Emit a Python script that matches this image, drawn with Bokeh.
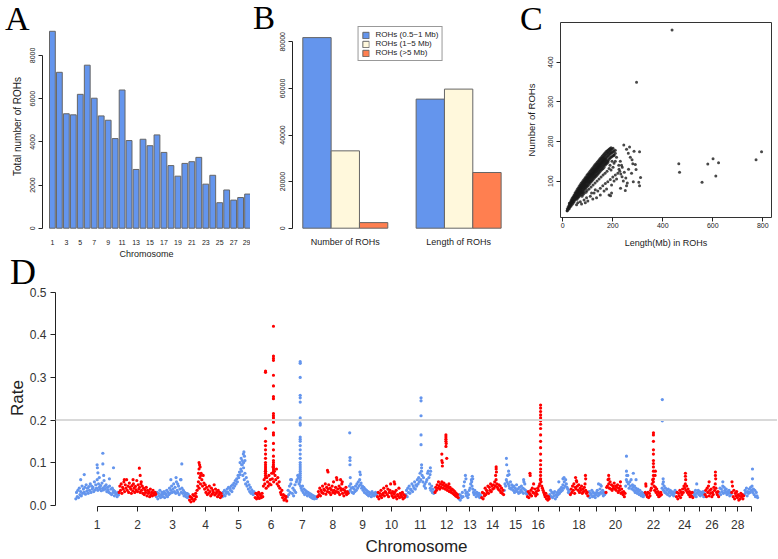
import numpy as np
from bokeh.plotting import figure
from bokeh.models import (Legend, LegendItem, FixedTicker, Range1d, Span,
                          NumeralTickFormatter, Div)
from bokeh.layouts import column, row
from bokeh.embed import file_html
from bokeh.resources import INLINE

# ---------------- data: panel A ----------------
chromosomes = list(range(1, 30))
roh_per_chrom = [9120, 7220, 5300, 5250, 6200, 7550, 6020, 5200, 5000, 4150,
                 6400, 4060, 2720, 4120, 3820, 4320, 3510, 2900, 2410, 3000,
                 3080, 3280, 2040, 2450, 1180, 1770, 1300, 1420, 1580]

# ---------------- data: panel B ----------------
b_groups = ["Number of ROHs", "Length of ROHs"]
b_classes = ["ROHs (0.5~1 Mb)", "ROHs (1~5 Mb)", "ROHs (>5 Mb)"]
roh_short = [81800, 55400]
roh_mid = [33200, 59700]
roh_long = [2400, 23900]

# ---------------- data: panel C ----------------
# dense cloud: length (Mb) column -> numbers of ROHs observed at that length
c_cloud_len = [18, 22, 26, 29, 33, 37, 41, 45, 49, 53, 57, 61, 65, 69, 73, 77, 81, 85, 89, 93,
               97, 101, 105, 109, 113, 117, 121, 125, 129, 133, 137, 141, 145, 149, 153, 157,
               161, 165, 169, 173, 177, 181, 185, 189, 193, 197, 201, 205, 210]
c_cloud_num = [[25, 30], [32, 28, 36], [34, 40, 31, 44], [38, 45, 35, 41],
               [42, 48, 37, 51, 44], [46, 41, 53, 49, 56], [50, 44, 57, 53, 60, 47],
               [55, 48, 61, 52, 64, 58], [58, 52, 66, 61, 70, 55], [63, 56, 70, 60, 74, 67],
               [66, 59, 73, 64, 78, 70, 54], [70, 62, 77, 67, 82, 74, 58],
               [74, 66, 81, 71, 86, 78, 61], [77, 69, 85, 74, 90, 82, 64],
               [81, 72, 88, 78, 94, 85, 67], [84, 75, 92, 81, 97, 88, 70, 62],
               [88, 79, 95, 84, 101, 92, 73, 66], [91, 82, 99, 88, 104, 95, 76, 69],
               [95, 85, 102, 91, 108, 98, 80], [98, 88, 106, 94, 111, 102, 83, 72],
               [101, 91, 109, 97, 115, 105, 86, 76], [105, 95, 112, 100, 118, 108, 89],
               [108, 98, 116, 103, 121, 111, 92, 80], [111, 101, 119, 107, 125, 114, 95],
               [114, 104, 122, 110, 128, 117, 98, 85], [117, 107, 126, 113, 131, 120, 101],
               [120, 110, 129, 116, 134, 123, 104, 90], [123, 113, 132, 119, 138, 126, 107],
               [126, 116, 135, 122, 141, 129, 110, 95], [129, 119, 138, 125, 144, 132, 112],
               [132, 122, 141, 128, 147, 135, 115, 100], [135, 125, 144, 131, 150, 138, 118],
               [138, 128, 147, 134, 153, 141, 121, 105], [141, 131, 150, 137, 156, 144, 124],
               [144, 134, 153, 140, 159, 147, 127, 110], [147, 137, 156, 143, 162, 150, 130],
               [150, 139, 159, 146, 165, 153, 132, 115], [152, 142, 161, 149, 168, 156, 135],
               [155, 145, 164, 151, 171, 140, 120], [158, 147, 166, 154, 174, 143],
               [160, 150, 169, 176, 145, 125], [163, 152, 171, 178, 148],
               [165, 155, 173, 180, 132], [168, 158, 176, 182, 140], [170, 160, 178, 184, 128],
               [172, 162, 181, 150], [174, 164, 183, 135], [166, 176, 145], [170, 178, 150]]
# sparse points under the cloud and far outliers
c_len = [55, 70, 85, 95, 110, 125, 140, 150, 160, 170, 180, 190, 200, 210, 220, 115, 130, 165,
         175, 195, 205, 215, 225, 235, 230, 215, 205, 195, 185, 150, 135, 120, 100, 90, 75, 60,
         224, 228, 232, 238, 242, 246, 252, 258, 263, 270, 275, 282, 285, 262,
         437, 295, 464, 467, 557, 580, 601, 612, 623, 773, 795, 307, 244, 267, 255, 290, 293,
         304, 307, 311, 277, 280, 255, 250, 237, 231, 191, 17]
c_num = [40, 48, 52, 58, 62, 70, 75, 82, 88, 94, 98, 104, 110, 115, 120, 70, 78, 75,
         80, 90, 100, 105, 130, 140, 150, 160, 165, 70, 65, 65, 58, 55, 50, 45, 42, 45,
         140, 125, 118, 135, 100, 122, 108, 95, 130, 160, 120, 98, 175, 170,
         481, 349, 144, 122, 97, 143, 156, 113, 146, 154, 174, 174, 191, 186, 180, 142, 129,
         97, 88, 109, 154, 144, 88, 76, 111, 82, 63, 25]

# ---------------- data: panel D (rate x 1000) ----------------
chrom_len_mb = [158.5, 136.2, 121.0, 120.0, 120.1, 117.8, 110.7, 113.3, 105.5, 103.3,
                107.0, 87.2, 83.5, 82.4, 85.0, 81.7, 75.2, 66.0, 64.1, 72.0,
                71.6, 61.4, 52.5, 62.3, 42.4, 52.0, 45.6, 45.9, 51.1]
rate_chr1 = [15, 30, 20, 35, 18, 40, 25, 32, 22, 45, 28, 38, 30, 42, 26, 48, 33, 40, 28, 44, 35, 50,
             30, 45, 38, 42, 32, 55, 36, 48, 40, 60, 35, 50, 42, 38, 46, 34, 52, 40, 36, 58, 44, 38,
             48, 32, 42, 36, 30, 45, 28, 38, 25, 40, 30, 35, 22, 32, 28, 26, 20, 30, 24]
rate_chr2 = [30, 45, 35, 50, 28, 42, 38, 55, 32, 48, 40, 60, 35, 45, 30, 52, 42, 38, 28, 46, 34, 50,
             40, 30, 44, 36, 58, 32, 48, 38, 42, 30, 50, 35, 45, 28, 40, 25, 36, 30, 42, 22, 35, 28,
             32, 20, 38, 25, 30, 22, 35, 28, 24, 30, 26]
rate_chr3 = [20, 30, 15, 28, 22, 35, 18, 25, 30, 20, 26, 32, 18, 28, 24, 35, 20, 30, 25, 40, 28, 35,
             45, 30, 38, 50, 32, 42, 28, 55, 35, 30, 45, 25, 38, 60, 30, 40, 28, 35, 22, 30, 25, 20,
             28, 18, 26, 22]
rate_chr4 = [12, 20, 8, 18, 15, 25, 10, 22, 14, 28, 20, 35, 45, 55, 40, 65, 50, 75, 60, 45, 70, 52,
             38, 48, 30, 42, 25, 36, 28, 45, 32, 22, 40, 26, 35, 30, 48, 24, 38, 28, 32, 20, 35, 25,
             30, 18, 28, 22]
rate_chr5 = [20, 30, 25, 35, 22, 32, 28, 38, 30, 42, 26, 40, 35, 45, 32, 48, 40, 52, 45, 58, 50, 62,
             55, 70, 65, 78, 72, 85, 80, 95, 70, 88, 60, 75, 50, 65, 45, 55, 38, 48, 32, 42, 28, 36,
             30, 25, 32, 28]
rate_chr6 = [18, 28, 15, 25, 20, 30, 16, 26, 22, 18, 28, 20, 45, 60, 50, 80, 40, 65, 55, 45, 70, 50,
             60, 48, 75, 62, 90, 55, 80, 70, 60, 85, 50, 65, 45, 55, 40, 30, 25, 35, 18, 25, 12, 22,
             15, 20, 10]
rate_chr7 = [20, 35, 25, 45, 30, 50, 60, 28, 40, 22, 35, 48, 30, 55, 60, 70, 65, 50, 55, 45, 40, 35,
             45, 30, 38, 25, 35, 28, 32, 22, 30, 25, 28, 20, 26, 18, 24, 16, 22, 15, 20, 18, 16, 20]
rate_chr8 = [20, 32, 25, 40, 22, 35, 30, 45, 28, 38, 35, 50, 26, 42, 32, 38, 48, 30, 40, 25, 36, 45,
             30, 55, 35, 28, 42, 32, 60, 38, 30, 45, 25, 40, 35, 50, 28, 38, 22, 35, 30, 42, 25, 32, 28]
rate_chr9 = [30, 45, 35, 50, 40, 30, 42, 28, 38, 32, 45, 35, 50, 40, 55, 45, 60, 48, 52, 40, 45, 35,
             42, 30, 38, 28, 35, 25, 32, 22, 30, 26, 28, 20, 32, 24, 28, 22, 26, 30, 24, 28]
rate_chr10 = [20, 30, 15, 28, 22, 35, 18, 25, 28, 40, 22, 32, 30, 45, 25, 38, 20, 30, 35, 50, 28, 22,
              32, 18, 26, 30, 20, 35, 15, 25, 22, 40, 18, 28, 24, 20, 30, 15, 25, 18, 22]
rate_chr11 = [25, 35, 20, 40, 30, 45, 28, 38, 35, 50, 32, 45, 40, 55, 38, 48, 45, 60, 50, 65, 55, 75,
              60, 80, 70, 55, 65, 45, 50, 40, 55, 60, 75, 80, 65, 50, 40, 35, 45, 30, 38, 28, 32]
rate_chr12 = [30, 42, 35, 48, 40, 55, 45, 38, 50, 42, 55, 48, 40, 52, 45, 38, 48, 42, 35, 45, 40, 32,
              42, 36, 30, 38, 28, 35, 25, 32, 22, 28, 20, 25, 18]
rate_chr13 = [15, 25, 12, 22, 18, 30, 20, 45, 55, 35, 28, 22, 30, 18, 25, 35, 40, 50, 60, 45, 38, 30,
              25, 35, 28, 20, 30, 25, 22, 28, 18, 24, 20]
rate_chr14 = [18, 30, 15, 28, 22, 40, 25, 35, 30, 45, 28, 42, 35, 50, 32, 45, 38, 48, 40, 55, 45, 60,
              50, 42, 38, 48, 35, 45, 30, 40, 28, 35, 25]
rate_chr15 = [35, 50, 45, 60, 55, 70, 50, 45, 40, 55, 38, 48, 42, 35, 45, 30, 40, 35, 48, 32, 38, 28,
              42, 30, 36, 45, 32, 40, 28, 38, 50, 35, 30, 26]
rate_chr16 = [20, 32, 18, 28, 25, 35, 22, 40, 30, 50, 28, 38, 22, 32, 26, 40, 35, 45, 50, 60, 55, 45,
              40, 35, 30, 25, 20, 28, 15, 22, 12, 20, 15]
rate_chr17 = [25, 35, 20, 30, 18, 28, 22, 32, 15, 25, 20, 30, 25, 35, 28, 38, 32, 42, 35, 48, 40, 55,
              45, 60, 50, 42, 38, 30, 35, 28]
rate_chr18 = [25, 38, 30, 45, 35, 50, 28, 42, 38, 55, 45, 35, 48, 30, 40, 35, 45, 28, 38, 32, 42, 50,
              35, 28, 30, 22]
rate_chr19 = [22, 32, 18, 28, 25, 35, 20, 30, 22, 28, 18, 25, 30, 35, 22, 28, 25, 38, 30, 45, 28, 35,
              22, 30, 25, 28]
rate_chr20 = [30, 42, 45, 60, 50, 40, 55, 38, 48, 35, 45, 40, 52, 38, 45, 35, 42, 48, 30, 40, 35, 45,
              28, 38, 30, 25, 32, 20, 28]
rate_chr21 = [45, 60, 55, 70, 50, 40, 55, 45, 60, 38, 48, 42, 35, 45, 30, 40, 35, 28, 38, 32, 25, 35,
              28, 22, 30, 25, 20, 28, 24]
rate_chr22 = [30, 45, 25, 20, 30, 18, 28, 22, 35, 40, 50, 60, 55, 45, 35, 42, 30, 38, 25, 32, 20, 28,
              22, 30, 25]
rate_chr23 = [40, 50, 35, 45, 30, 40, 28, 35, 25, 38, 30, 22, 35, 28, 32, 25, 30, 22, 28, 35, 30]
rate_chr24 = [20, 30, 15, 28, 22, 35, 18, 30, 25, 38, 30, 45, 40, 50, 35, 45, 30, 38, 25, 32, 20, 28,
              22, 30, 18]
rate_chr25 = [22, 30, 25, 35, 20, 28, 30, 35, 25, 32, 22, 28, 30, 25, 32, 20, 28]
rate_chr26 = [25, 35, 20, 40, 30, 45, 22, 35, 28, 38, 20, 30, 25, 42, 35, 50, 40, 30, 25, 32, 20]
rate_chr27 = [30, 40, 25, 38, 32, 45, 28, 42, 35, 30, 38, 25, 32, 28, 35, 22, 30, 26]
rate_chr28 = [30, 45, 20, 35, 15, 28, 22, 32, 18, 25, 12, 22, 15, 28, 20, 25, 15, 22]
rate_chr29 = [25, 35, 30, 40, 22, 32, 28, 38, 30, 42, 35, 45, 30, 38, 25, 35, 20, 30, 22, 18]

# isolated high points: chromosome, position (Mb), rate x 1000
peak_chrom = ([1] * 11 + [2] * 5 + [3] * 5 + [4] * 6 + [5] * 9 + [6] * 41 + [7] * 27 + [8] * 5 +
              [9] * 7 + [10] * 2 + [11] * 10 + [12] * 12 + [13] * 5 + [14] * 4 + [15] * 6 +
              [16] * 20 + [17] * 3 + [18] * 4 + [19] * 2 + [20] * 3 + [21] * 5 + [22] * 14 +
              [23] * 4 + [24] * 3 + [25] * 1 + [26] * 4 + [27] * 1 + [28] * 1 + [29] * 2)
peak_pos = ([79, 80, 82, 87, 100, 100, 103, 139, 19, 32, 124] +
            [20, 52, 75, 78, 82] +
            [54, 73, 91, 94, 79] +
            [36, 38, 36, 40, 34, 42] +
            [66, 70, 78, 80, 82, 84, 79, 72, 74] +
            [39] * 16 + [68] * 25 +
            [48] * 26 + [13] +
            [37, 39, 70, 85, 91] +
            [5, 6, 6, 6, 7, 42, 44] +
            [62, 64] +
            [57, 57, 57, 57, 57, 59, 59, 91, 92, 90] +
            [26, 26, 28, 28, 41, 41, 41, 41, 42, 41, 44, 52] +
            [25, 27, 50, 52, 48] +
            [54, 54, 55, 52] +
            [9, 10, 17, 19, 72, 73] +
            [10, 11] + [49] * 18 +
            [49, 53, 34] +
            [20, 23, 56, 57] +
            [38, 45] +
            [11, 12, 54] +
            [4, 4, 5, 29, 39] +
            [31] * 11 + [38, 37, 3] +
            [2, 2, 5, 6] +
            [34, 34, 35] +
            [13] +
            [39, 39, 40, 16] +
            [14] + [2] + [31, 31])
peak_rate = ([95, 88, 76, 65, 122, 97, 70, 88, 60, 72, 62] +
             [60, 60, 87, 70, 55] +
             [60, 65, 60, 97, 50] +
             [100, 95, 85, 90, 75, 70] +
             [100, 110, 120, 125, 115, 105, 100, 95, 105] +
             [312, 315, 180, 150, 140, 130, 120, 110, 100, 95, 90, 85, 80, 75, 70, 65] +
             [420, 350, 345, 340, 305, 280, 255, 250, 215, 210, 205, 200, 195, 170, 165, 145,
              130, 115, 105, 100, 95, 90, 85, 80, 75] +
             [337, 333, 300, 258, 252, 242, 205, 200, 192, 188, 160, 155, 150, 140, 130, 120,
              110, 100, 95, 90, 85, 80, 75, 70, 65, 60] + [60] +
             [82, 78, 65, 60, 55] +
             [170, 112, 105, 95, 65, 78, 72] +
             [55, 50] +
             [252, 245, 210, 165, 142, 95, 88, 88, 80, 72] +
             [120, 105, 100, 92, 165, 160, 155, 150, 145, 138, 110, 50] +
             [70, 62, 68, 62, 55] +
             [90, 85, 78, 70] +
             [110, 95, 80, 72, 60, 55] +
             [75, 70] + [235, 228, 220, 212, 205, 198, 190, 180, 165, 150, 135, 120, 105, 95,
                         85, 78, 70, 62] +
             [62, 65, 55] +
             [65, 58, 70, 62] +
             [50, 48] +
             [70, 62, 55] +
             [115, 80, 70, 75, 60] +
             [170, 165, 150, 130, 120, 105, 98, 90, 80, 70, 62] + [80, 70, 50] +
             [248, 198, 62, 55] +
             [75, 68, 60] +
             [50] +
             [78, 70, 62, 55] +
             [55] + [55] + [85, 62])
shown_chrom_labels = [1, 2, 3, 4, 5, 6, 7, 8, 9, 10, 11, 12, 13, 14, 15, 16, 18, 20, 22, 24, 26, 28]
threshold = 0.2

# ---------------- styles ----------------
SANS = "Liberation Sans"
SERIF = "Liberation Serif"
BLUE = "#6495ED"
CREAM = "#FFF8DC"
CORAL = "#FF7F50"
RED = "#FF0000"
INK = "#222222"


def base_fig(fw, fh, xr, yr, ml, mr, mt, mb):
    p = figure(frame_width=fw, frame_height=fh, x_range=Range1d(*xr), y_range=Range1d(*yr),
               output_backend="svg", toolbar_location=None, title=None, align="start",
               min_border_left=ml, min_border_right=mr, min_border_top=mt, min_border_bottom=mb)
    p.grid.visible = False
    p.outline_line_color = None
    for ax in p.axis:
        ax.axis_label_text_font = SANS
        ax.axis_label_text_font_style = "normal"
        ax.major_label_text_font = SANS
        ax.minor_tick_line_color = None
        ax.major_tick_in = 0
        ax.axis_line_color = INK
        ax.major_tick_line_color = INK
        ax.major_label_text_color = INK
        ax.axis_label_text_color = INK
    return p


def letter(text, left, top, size, lh):
    return Div(text=text, margin=0,
               styles={"position": "absolute", "left": f"{left}px", "top": f"{top}px",
                       "font-family": SERIF, "font-size": f"{size}px",
                       "line-height": f"{lh}px", "color": "black"})


# ---------------- panel A ----------------
pA = base_fig(208, 208, (-10.05, 348.0), (-107, 9527), 42, 0, 12, 40)
a_x = [7 + 12 * (c - 1) for c in chromosomes]
pA.vbar(x=a_x, top=roh_per_chrom, bottom=0, width=10, fill_color=BLUE, line_color="#666666")
pA.yaxis.ticker = FixedTicker(ticks=[0, 2000, 4000, 6000, 8000])
pA.yaxis.bounds = (0, 8000)
pA.yaxis.major_label_orientation = "vertical"
pA.yaxis.major_label_text_font_size = "7px"
pA.yaxis.major_tick_out = 4
pA.yaxis.major_label_standoff = 3
pA.yaxis.axis_label = "Total number of ROHs"
pA.yaxis.axis_label_text_font_size = "10px"
pA.yaxis.axis_label_standoff = 5
odd = [c for c in chromosomes if c % 2 == 1]
pA.xaxis.ticker = FixedTicker(ticks=[7 + 12 * (c - 1) for c in odd])
pA.xaxis.major_label_overrides = {7 + 12 * (c - 1): str(c) for c in odd}
pA.xaxis.axis_line_color = None
pA.xaxis.major_tick_line_color = None
pA.xaxis.major_tick_out = 0
pA.xaxis.major_label_standoff = 9
pA.xaxis.major_label_text_font_size = "7px"
pA.xaxis.axis_label = "Chromosome"
pA.xaxis.axis_label_text_font_size = "9px"
pA.xaxis.axis_label_standoff = 1

# ---------------- panel B ----------------
pB = base_fig(216, 210, (1.273, 16.52), (-1845, 88284), 42, 7, 10, 40)
b_series = [roh_short, roh_mid, roh_long]
b_colors = [BLUE, CREAM, CORAL]
b_renderers = []
for k, (vals, col) in enumerate(zip(b_series, b_colors)):
    xs = [2 * (1 + 4 * g + k) + 1 for g in range(len(b_groups))]
    r = pB.vbar(x=xs, top=vals, bottom=0, width=2, fill_color=col, line_color="#666666")
    b_renderers.append(r)
group_ticks = [2 * (1 + 4 * g + 1) + 1 for g in range(len(b_groups))]
pB.xaxis.ticker = FixedTicker(ticks=group_ticks)
pB.xaxis.major_label_overrides = {t: name for t, name in zip(group_ticks, b_groups)}
pB.xaxis.axis_line_color = None
pB.xaxis.major_tick_line_color = None
pB.xaxis.major_tick_out = 0
pB.xaxis.major_label_standoff = 4
pB.xaxis.major_label_text_font_size = "9px"
pB.yaxis.ticker = FixedTicker(ticks=[0, 20000, 40000, 60000, 80000])
pB.yaxis.bounds = (0, 80000)
pB.yaxis.major_label_orientation = "vertical"
pB.yaxis.major_label_text_font_size = "7px"
pB.yaxis.major_tick_out = 4
pB.yaxis.major_label_standoff = 3
legend = Legend(items=[LegendItem(label=lab, renderers=[r]) for lab, r in zip(b_classes, b_renderers)],
                location="top_center", border_line_color="#333333", border_line_width=1,
                background_fill_color="white", background_fill_alpha=1.0,
                padding=3, spacing=0, margin=4, glyph_width=8, glyph_height=8,
                label_text_font=SANS, label_text_font_size="8px", label_height=9,
                label_standoff=6, label_text_color=INK)
pB.add_layout(legend)

# ---------------- panel C ----------------
pC = base_fig(211, 195, (-9.2, 834.8), (8.1, 500), 45, 6, 22, 40)
pC.outline_line_color = "#333333"
cx = [x for x, ys in zip(c_cloud_len, c_cloud_num) for _ in ys] + c_len
cy = [y for ys in c_cloud_num for y in ys] + c_num
pC.scatter(x=cx, y=cy, size=3, marker="circle", fill_color="#1a1a1a",
           fill_alpha=0.8, line_color=None)
pC.xaxis.ticker = FixedTicker(ticks=[0, 200, 400, 600, 800])
pC.xaxis.axis_line_color = None
pC.xaxis.major_tick_out = 4
pC.xaxis.major_label_standoff = 1
pC.xaxis.major_label_text_font_size = "7px"
pC.xaxis.axis_label = "Length(Mb) in ROHs"
pC.xaxis.axis_label_text_font_size = "9px"
pC.xaxis.axis_label_standoff = 7
pC.yaxis.ticker = FixedTicker(ticks=[100, 200, 300, 400])
pC.yaxis.axis_line_color = None
pC.yaxis.major_label_orientation = "vertical"
pC.yaxis.major_label_text_font_size = "7px"
pC.yaxis.major_tick_out = 4
pC.yaxis.major_label_standoff = 3
pC.yaxis.axis_label = "Number of ROHs"
pC.yaxis.axis_label_text_font_size = "9.5px"
pC.yaxis.axis_label_standoff = 9

# ---------------- panel D ----------------
rate_lists = [rate_chr1, rate_chr2, rate_chr3, rate_chr4, rate_chr5, rate_chr6, rate_chr7,
              rate_chr8, rate_chr9, rate_chr10, rate_chr11, rate_chr12, rate_chr13, rate_chr14,
              rate_chr15, rate_chr16, rate_chr17, rate_chr18, rate_chr19, rate_chr20, rate_chr21,
              rate_chr22, rate_chr23, rate_chr24, rate_chr25, rate_chr26, rate_chr27, rate_chr28,
              rate_chr29]
lens = np.array(chrom_len_mb)
starts = np.concatenate([[0.0], np.cumsum(lens)[:-1]])
centers = [int(round(s + L / 2)) for s, L in zip(starts, lens)]

pts = {BLUE: ([], []), RED: ([], [])}
for ci, (vals, L, s) in enumerate(zip(rate_lists, lens, starts)):
    col = BLUE if (ci + 1) % 2 == 1 else RED
    n = len(vals)
    for j, v in enumerate(vals):
        pts[col][0].append(s + (j + 0.5) * L / n)
        pts[col][1].append(v / 1000.0)
for c, pos, v in zip(peak_chrom, peak_pos, peak_rate):
    col = BLUE if c % 2 == 1 else RED
    pts[col][0].append(starts[c - 1] + pos)
    pts[col][1].append(v / 1000.0)

pD = base_fig(722, 217, (-73.1, 2566.7), (-0.003, 0.5063), 55, 0, 29, 51)
pD.add_layout(Span(location=threshold, dimension="width", line_color="#d9d9d9", line_width=2))
for col in (BLUE, RED):
    pD.scatter(x=pts[col][0], y=pts[col][1], size=3.2, marker="circle", fill_color=col,
               line_color=None)
pD.yaxis.ticker = FixedTicker(ticks=[0, 0.1, 0.2, 0.3, 0.4, 0.5])
pD.yaxis.formatter = NumeralTickFormatter(format="0.0")
pD.yaxis.bounds = (0, 0.5)
pD.yaxis.major_tick_out = 5
pD.yaxis.major_label_standoff = 4
pD.yaxis.major_label_text_font_size = "12px"
pD.yaxis.major_label_text_color = "#333333"
pD.yaxis.axis_label = "Rate"
pD.yaxis.axis_label_text_font_size = "17px"
pD.yaxis.axis_label_standoff = 0
pD.xaxis.ticker = FixedTicker(ticks=centers)
pD.xaxis.major_label_overrides = {t: (str(c) if c in shown_chrom_labels else "")
                                   for t, c in zip(centers, chromosomes)}
pD.xaxis.bounds = (centers[0], centers[-1])
pD.xaxis.major_tick_out = 5
pD.xaxis.major_label_standoff = 8
pD.xaxis.major_label_text_font_size = "12px"
pD.xaxis.major_label_text_color = "#333333"
pD.xaxis.axis_label = "Chromosome"
pD.xaxis.axis_label_text_font_size = "17px"
pD.xaxis.axis_label_standoff = 5

letters = [letter("A", 5, 0, 34, 38), letter("B", 253, 0, 33, 37),
           letter("C", 520, 0, 34, 38), letter("D", 10, 252, 36, 40)]

layout = column(row(pA, pB, pC), pD, *letters)
open("out.html", "w").write(file_html(layout, INLINE))
